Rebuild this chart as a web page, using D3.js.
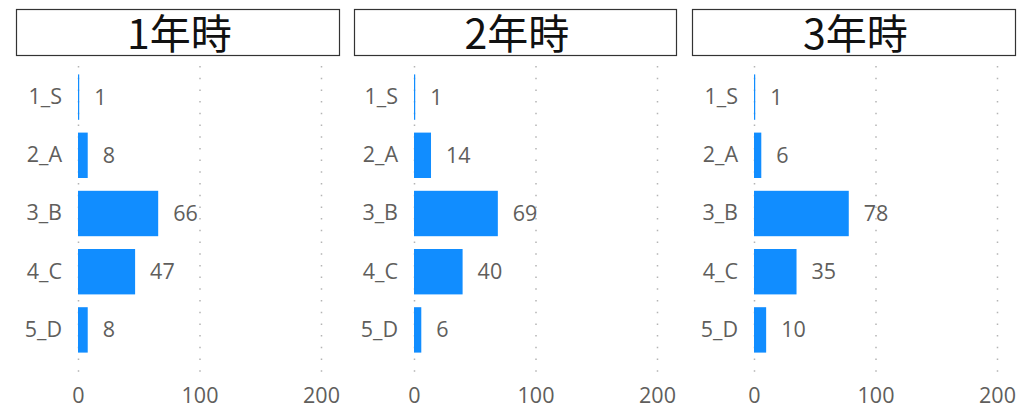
<!DOCTYPE html>
<html><head><meta charset="utf-8">
<script src="https://cdn.jsdelivr.net/npm/d3@7"></script>
<style>
body{margin:0;background:#fff;}
svg{display:block;}
</style></head>
<body>
<svg id="chart" width="1022" height="409"></svg>
<script>
const categories = ["1_S","2_A","3_B","4_C","5_D"];
const titles = ["1年時","2年時","3年時"];
const values1 = [1, 8, 66, 47, 8];
const values2 = [1, 14, 69, 40, 6];
const values3 = [1, 6, 78, 35, 10];
const tickValues = [0, 100, 200];

const seriesList = [values1, values2, values3];
const panels = [
  {boxX:16, boxW:323, x0:78},
  {boxX:354, boxW:322, x0:414},
  {boxX:692, boxW:323, x0:754}
];

const svg = d3.select("#chart");
const font = "'Open Sans', 'Noto Sans', sans-serif";

const y = d3.scaleBand().domain(categories).range([68, 359]).paddingInner(0.22).paddingOuter(0.11);

panels.forEach((p, i) => {
  const vals = seriesList[i];
  const x = d3.scaleLinear().domain([0, 200]).range([p.x0, p.x0 + 243]);
  const g = svg.append("g");

  // title box
  g.append("rect").attr("x", p.boxX + 0.5).attr("y", 9.5).attr("width", p.boxW).attr("height", 46)
    .attr("fill", "#fff").attr("stroke", "#333").attr("stroke-width", 1.2);
  g.append("text").attr("x", p.boxX + p.boxW / 2 + 2).attr("y", 49)
    .attr("text-anchor", "middle").attr("font-family", "'Noto Sans CJK JP', sans-serif")
    .attr("font-size", 41).attr("font-weight", 400).attr("fill", "#111").text(titles[i]);

  // gridlines
  g.selectAll("line.grid").data(tickValues).enter().append("line")
    .attr("x1", d => x(d) + 0.5).attr("x2", d => x(d) + 0.5)
    .attr("y1", 66).attr("y2", 378)
    .attr("stroke", "#b4b4b4").attr("stroke-width", 1.5).attr("stroke-dasharray", "1.5,10.2");

  // x axis tick labels
  const xAxis = d3.axisBottom(x).tickValues(tickValues).tickSize(0).tickPadding(0);
  const ax = g.append("g").attr("transform", "translate(0,388)").call(xAxis);
  ax.select(".domain").remove();
  ax.selectAll("text").attr("font-family", font).attr("font-size", 21.5).attr("fill", "#605E5C").attr("dy", "0.71em");

  // y axis labels
  const yAxis = d3.axisLeft(y).tickSize(0).tickPadding(16);
  const ay = g.append("g").attr("transform", `translate(${p.x0},0)`).call(yAxis);
  ay.select(".domain").remove();
  ay.selectAll("text").attr("font-family", font).attr("font-size", 21.5).attr("fill", "#605E5C");

  // bars
  g.selectAll("rect.bar").data(categories).enter().append("rect")
    .attr("x", x(0)).attr("y", d => y(d))
    .attr("width", (d, j) => Math.max(0, x(vals[j]) - x(0)))
    .attr("height", y.bandwidth())
    .attr("fill", "#118DFF");

  // value labels
  g.selectAll("text.val").data(categories).enter().append("text")
    .attr("x", (d, j) => x(vals[j]) + 15)
    .attr("y", d => y(d) + y.bandwidth() / 2)
    .attr("dy", "0.35em")
    .attr("font-family", font).attr("font-size", 21.5).attr("fill", "#605E5C")
    .text((d, j) => vals[j]);
});
</script>
</body></html>
